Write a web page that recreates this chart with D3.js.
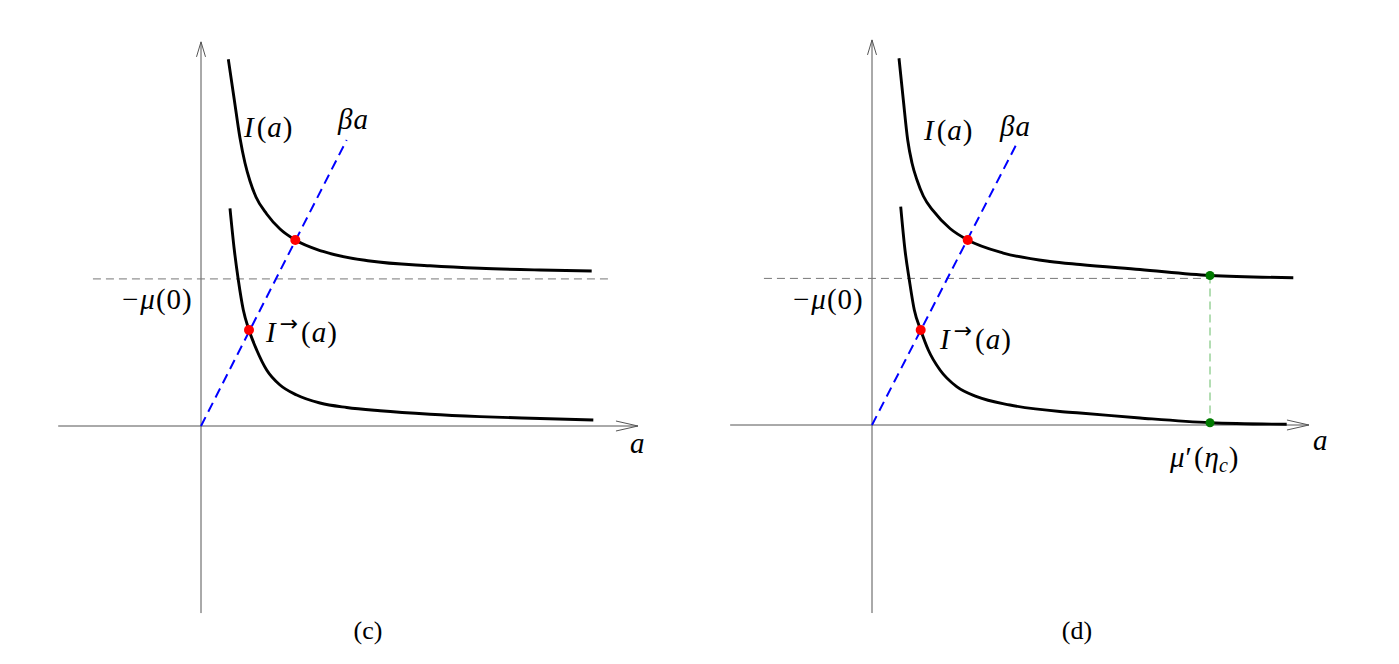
<!DOCTYPE html>
<html><head><meta charset="utf-8">
<script src="https://cdn.jsdelivr.net/npm/d3@7"></script>
<style>
html,body{margin:0;padding:0;background:#fff;}
svg text{font-family:"Liberation Serif","Times New Roman",serif;}
</style></head>
<body><svg id="chart" width="1399" height="664"></svg>
<script>
// ---- data (abstract axis units) ----
const leftUpper = [[0.574,7.704],[0.700,6.849],[0.819,6.050],[0.924,5.525],[1.029,5.147],[1.155,4.811],[1.380,4.454],[1.660,4.139],[1.981,3.908],[2.563,3.666],[3.550,3.466],[4.811,3.366],[5.861,3.313],[7.122,3.277],[8.208,3.256]];
const leftLower = [[0.609,4.574],[0.700,3.697],[0.784,3.067],[0.889,2.437],[1.008,2.017],[1.170,1.597],[1.380,1.176],[1.660,0.861],[2.011,0.651],[2.500,0.483],[3.061,0.389],[3.761,0.319],[4.811,0.246],[5.861,0.197],[7.122,0.158],[8.242,0.126]];
const leftBeta = [[0,0],[3.061,6.01]];
const leftRed = [[1.981,3.908],[1.008,2.017]];
const leftMu0 = 3.09;

const rightUpper = [[0.567,7.704],[0.658,6.828],[0.750,5.987],[0.840,5.504],[0.945,5.147],[1.078,4.811],[1.288,4.496],[1.639,4.128],[2.011,3.887],[2.758,3.613],[3.739,3.435],[4.370,3.372],[5.630,3.267],[7.101,3.141],[8.851,3.095]];
const rightLower = [[0.603,4.586],[0.693,3.676],[0.784,3.046],[0.889,2.416],[1.023,1.996],[1.183,1.576],[1.429,1.155],[1.779,0.805],[2.200,0.595],[2.899,0.420],[3.950,0.284],[4.370,0.252],[5.630,0.147],[7.101,0.048],[8.712,0.015]];
const rightBeta = [[0,0],[3.025,5.88]];
const rightRed = [[2.011,3.887],[1.023,1.996]];
const rightGreen = [[7.101,3.141],[7.101,0.048]];
const rightMu0 = 3.08;

const captions = ["(c)","(d)"];

// ---- layout ----
const U = 47.6;
const svg = d3.select("#chart");

function panel(cfg){
  const x = d3.scaleLinear().domain([0,1]).range([cfg.ox, cfg.ox+U]);
  const y = d3.scaleLinear().domain([0,1]).range([cfg.oy, cfg.oy-U]);
  const g = svg.append("g");
  const line = d3.line().x(d=>x(d[0])).y(d=>y(d[1]));
  const curve = d3.line().x(d=>x(d[0])).y(d=>y(d[1])).curve(d3.curveMonotoneX);
  const axisColor = "#555";
  // x axis
  g.append("path").attr("d", line([[cfg.xMin,0],[cfg.xMax,0]])).attr("stroke",axisColor).attr("stroke-width",1).attr("fill","none");
  const tx = x(cfg.xMax), ty = y(0);
  g.append("path").attr("d", `M${tx-22},${ty-5}L${tx},${ty}L${tx-22},${ty+5}`).attr("stroke",axisColor).attr("stroke-width",1).attr("fill","none");
  // y axis
  g.append("path").attr("d", line([[0,cfg.yMin],[0,cfg.yMax]])).attr("stroke",axisColor).attr("stroke-width",1).attr("fill","none");
  const ux = x(0), uy = y(cfg.yMax);
  g.append("path").attr("d", `M${ux-4.5},${uy+15}L${ux},${uy}L${ux+4.5},${uy+15}`).attr("stroke",axisColor).attr("stroke-width",1).attr("fill","none");
  // -mu(0) dashed
  g.append("path").attr("d", line([[cfg.dashFrom,cfg.mu0],[cfg.dashTo,cfg.mu0]])).attr("stroke","#777").attr("stroke-width",1).attr("stroke-dasharray","8,5").attr("fill","none");
  // green vertical
  if(cfg.green){
    g.append("path").attr("d", line(cfg.green)).attr("stroke","#66bb66").attr("stroke-width",1).attr("stroke-dasharray","8,5").attr("fill","none");
  }
  // curves
  [cfg.upper,cfg.lower].forEach(c=>{
    g.append("path").attr("d", curve(c)).attr("stroke","#000").attr("stroke-width",2.9).attr("fill","none").attr("stroke-linecap","butt");
  });
  // beta a
  g.append("path").attr("d", line(cfg.beta)).attr("stroke","#0000ff").attr("stroke-width",2).attr("stroke-dasharray","10,6").attr("fill","none");
  // dots
  g.selectAll("circle.red").data(cfg.red).enter().append("circle").attr("class","red")
    .attr("cx",d=>x(d[0])).attr("cy",d=>y(d[1])).attr("r",5).attr("fill","#ff0000");
  if(cfg.green){
    g.selectAll("circle.grn").data(cfg.green).enter().append("circle").attr("class","grn")
      .attr("cx",d=>x(d[0])).attr("cy",d=>y(d[1])).attr("r",4.5).attr("fill","#007a00");
  }
  // labels
  const fs = 29;
  function mtext(px,py,parts,size){
    const t = g.append("text").attr("x",px).attr("y",py).attr("font-size",size||fs).attr("fill","#000");
    parts.forEach(p=>{
      const s = t.append("tspan").text(p.t);
      if(p.i) s.attr("font-style","italic");
      if(p.dy) s.attr("dy",p.dy);
      if(p.fs) s.attr("font-size",p.fs);
      if(p.dx) s.attr("dx",p.dx);
      if(p.ff) s.attr("font-family",p.ff);
    });
    return t;
  }
  const L = cfg.labels;
  mtext(L.Ia[0],L.Ia[1],[{t:"I",i:1},{t:"(",dx:3},{t:"a",i:1,dx:1},{t:")",dx:1}]);
  mtext(L.beta[0],L.beta[1],[{t:"β",i:1},{t:"a",i:1,dx:1}]);
  mtext(L.mu[0],L.mu[1],[{t:"−"},{t:"μ",i:1,dx:2},{t:"(",dx:1},{t:"0",dx:1},{t:")",dx:1}]);
  mtext(L.Iarr[0],L.Iarr[1],[{t:"I",i:1},{t:"→",dy:-11,fs:22,dx:4,ff:"DejaVu Sans"},{t:"(",dy:11,dx:3},{t:"a",i:1,dx:1},{t:")",dx:1}]);
  mtext(L.a[0],L.a[1],[{t:"a",i:1}]);
  if(L.mup){
    mtext(L.mup[0],L.mup[1],[{t:"μ",i:1},{t:"′",dx:1},{t:"(",dx:2},{t:"η",i:1,dx:1},{t:"c",i:1,dy:5,fs:20},{t:")",dy:-5,dx:1}]);
  }
  g.append("text").attr("x",L.cap[0]).attr("y",L.cap[1]).attr("text-anchor","middle").attr("font-size",26).text(cfg.caption);
}

panel({ox:201, oy:426, xMin:-3.0, xMax:9.18, yMin:-3.93, yMax:8.07,
  mu0:leftMu0, dashFrom:-2.27, dashTo:8.57,
  upper:leftUpper, lower:leftLower, beta:leftBeta, red:leftRed,
  caption:captions[0],
  labels:{Ia:[244,137], beta:[338,129], mu:[122,309], Iarr:[266,342], a:[630,453], cap:[368,639]}});

panel({ox:872, oy:425, xMin:-2.98, xMax:9.18, yMin:-3.95, yMax:8.09,
  mu0:rightMu0, dashFrom:-2.27, dashTo:7.10,
  upper:rightUpper, lower:rightLower, beta:rightBeta, red:rightRed, green:rightGreen,
  caption:captions[1],
  labels:{Ia:[924,140], beta:[1000,136], mu:[793,309], Iarr:[940,349], a:[1313,450], mup:[1170,467], cap:[1077,639]}});
</script></body></html>
